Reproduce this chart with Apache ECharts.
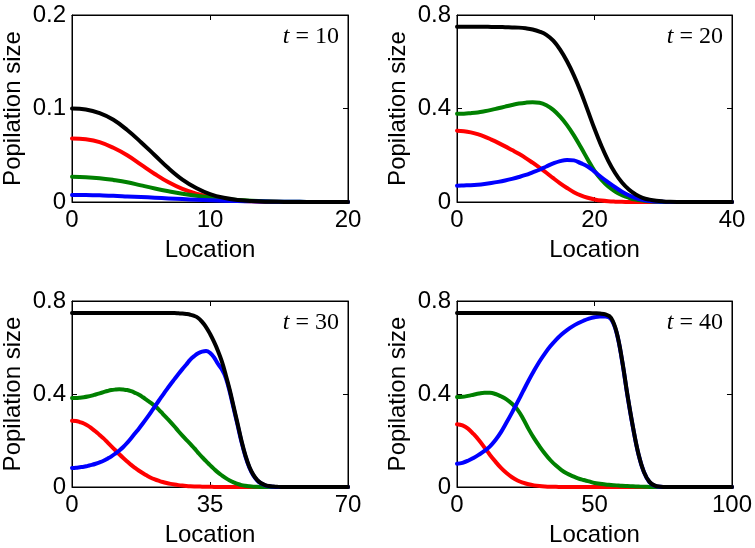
<!DOCTYPE html>
<html>
<head>
<meta charset="utf-8">
<script src="https://cdn.jsdelivr.net/npm/echarts@6/dist/echarts.min.js"></script>
<style>
html,body{margin:0;padding:0;background:#fff;}
#chart{width:755px;height:548px;}
</style>
</head>
<body>
<div id="chart"></div>
<script>
// ---------- data ----------
const PANEL_LABELS = ['10', '20', '30', '40'];
const X_MAX = [20, 40, 70, 100];
const X_INTERVAL = [10, 20, 35, 50];
const Y_MAX = [0.2, 0.8, 0.8, 0.8];
const Y_INTERVAL = [0.1, 0.4, 0.4, 0.4];

// t = 10 (location 0..20, step 1)
const X_T10 = [0,1,2,3,4,5,6,7,8,9,10,11,12,13,14,15,16,17,18,19,20];
const BLACK_T10 = [0.100,0.099,0.095,0.088,0.077,0.064,0.050,0.036,0.024,0.015,0.0085,0.0045,0.0022,0.001,0.0004,0.0002,0,0,0,0,0];
const RED_T10 = [0.068,0.067,0.064,0.058,0.050,0.040,0.030,0.021,0.014,0.009,0.0055,0.003,0.0015,0.0007,0.0003,0.0001,0,0,0,0,0];
const GREEN_T10 = [0.027,0.0266,0.0255,0.0236,0.0212,0.0178,0.0145,0.0115,0.0088,0.0066,0.0048,0.0033,0.0022,0.0014,0.0008,0.0004,0.0002,0.0001,0,0,0];
const BLUE_T10 = [0.0075,0.0074,0.0071,0.0067,0.0060,0.0053,0.0046,0.0038,0.0031,0.0024,0.0019,0.0014,0.0010,0.0007,0.0005,0.0003,0.0002,0.0001,0,0,0];

// t = 20 (location 0..40, step 1)
const X_T20 = [0,1,2,3,4,5,6,7,8,9,10,11,12,13,14,15,16,17,18,19,20,21,22,23,24,25,26,27,28,29,30,31,32,33,34,35,36,37,38,39,40];
const BLACK_T20 = [0.750,0.750,0.750,0.750,0.750,0.749,0.749,0.748,0.747,0.746,0.743,0.738,0.729,0.715,0.690,0.652,0.602,0.542,0.472,0.393,0.313,0.240,0.176,0.124,0.083,0.053,0.032,0.018,0.010,0.005,0.0025,0.0012,0.0005,0.0002,0,0,0,0,0,0,0];
const RED_T20 = [0.305,0.303,0.298,0.290,0.280,0.267,0.253,0.238,0.222,0.206,0.188,0.168,0.147,0.125,0.102,0.080,0.060,0.042,0.028,0.018,0.011,0.006,0.003,0.0015,0.0007,0.0003,0,0,0,0,0,0,0,0,0,0,0,0,0,0,0];
const GREEN_T20 = [0.378,0.378,0.380,0.383,0.388,0.394,0.401,0.408,0.415,0.421,0.425,0.427,0.425,0.414,0.394,0.365,0.329,0.285,0.235,0.183,0.133,0.095,0.066,0.045,0.029,0.018,0.010,0.006,0.003,0.001,0,0,0,0,0,0,0,0,0,0,0];
const BLUE_T20 = [0.070,0.071,0.072,0.074,0.077,0.081,0.086,0.092,0.099,0.107,0.116,0.127,0.138,0.152,0.165,0.175,0.180,0.178,0.166,0.152,0.130,0.106,0.084,0.063,0.044,0.029,0.017,0.009,0.004,0.002,0.001,0,0,0,0,0,0,0,0,0,0];

// t = 30 (location 0..70, step 1)
const X_T30 = [0,1,2,3,4,5,6,7,8,9,10,11,12,13,14,15,16,17,18,19,20,21,22,23,24,25,26,27,28,29,30,31,32,33,34,35,36,37,38,39,40,41,42,43,44,45,46,47,48,49,50,51,52,53,54,55,56,57,58,59,60,61,62,63,64,65,66,67,68,69,70];
const BLACK_T30 = [0.748,0.748,0.748,0.748,0.748,0.748,0.748,0.748,0.748,0.748,0.748,0.748,0.748,0.748,0.748,0.748,0.748,0.748,0.748,0.748,0.748,0.748,0.748,0.748,0.748,0.748,0.748,0.747,0.746,0.744,0.741,0.736,0.727,0.710,0.688,0.659,0.625,0.586,0.540,0.482,0.418,0.345,0.272,0.198,0.135,0.086,0.052,0.030,0.016,0.008,0.004,0.002,0.001,0,0,0,0,0,0,0,0,0,0,0,0,0,0,0,0,0,0];
const RED_T30 = [0.285,0.284,0.279,0.273,0.264,0.252,0.239,0.224,0.209,0.192,0.175,0.158,0.141,0.125,0.110,0.095,0.082,0.070,0.059,0.049,0.040,0.033,0.027,0.0216,0.0172,0.0135,0.0105,0.0081,0.0062,0.0047,0.0035,0.0026,0.0019,0.0014,0.001,0.0007,0.0005,0.0003,0.0002,0.0001,0,0,0,0,0,0,0,0,0,0,0,0,0,0,0,0,0,0,0,0,0,0,0,0,0,0,0,0,0,0,0];
const GREEN_T30 = [0.383,0.383,0.384,0.386,0.389,0.393,0.398,0.403,0.408,0.413,0.417,0.419,0.420,0.419,0.417,0.412,0.405,0.397,0.386,0.374,0.362,0.349,0.333,0.315,0.297,0.279,0.260,0.240,0.221,0.203,0.186,0.167,0.147,0.128,0.111,0.094,0.078,0.063,0.050,0.038,0.028,0.020,0.013,0.008,0.005,0.003,0.0015,0.0007,0.0003,0,0,0,0,0,0,0,0,0,0,0,0,0,0,0,0,0,0,0,0,0,0];
const BLUE_T30 = [0.082,0.083,0.085,0.087,0.091,0.095,0.100,0.106,0.113,0.122,0.132,0.144,0.157,0.172,0.190,0.210,0.231,0.252,0.274,0.297,0.321,0.346,0.371,0.395,0.419,0.442,0.464,0.486,0.507,0.527,0.548,0.563,0.575,0.582,0.585,0.577,0.558,0.530,0.506,0.470,0.410,0.338,0.266,0.193,0.131,0.083,0.050,0.028,0.015,0.007,0.003,0.001,0,0,0,0,0,0,0,0,0,0,0,0,0,0,0,0,0,0,0];

// t = 40 (location 0..100, step 2)
const X_T40 = [0,2,4,6,8,10,12,14,16,18,20,22,24,26,28,30,32,34,36,38,40,42,44,46,48,50,52,54,56,58,60,62,64,66,68,70,72,74,76,78,80,82,84,86,88,90,92,94,96,98,100];
const BLACK_T40 = [0.748,0.748,0.748,0.748,0.748,0.748,0.748,0.748,0.748,0.748,0.748,0.748,0.748,0.748,0.748,0.748,0.748,0.748,0.748,0.748,0.748,0.748,0.748,0.748,0.748,0.747,0.746,0.742,0.728,0.668,0.548,0.395,0.258,0.142,0.064,0.022,0.006,0.0015,0,0,0,0,0,0,0,0,0,0,0,0,0];
const RED_T40 = [0.270,0.265,0.251,0.228,0.201,0.170,0.138,0.109,0.082,0.060,0.042,0.028,0.0185,0.0116,0.0070,0.0041,0.0023,0.0012,0.0006,0.0003,0.0001,0,0,0,0,0,0,0,0,0,0,0,0,0,0,0,0,0,0,0,0,0,0,0,0,0,0,0,0,0,0];
const GREEN_T40 = [0.387,0.388,0.392,0.397,0.402,0.405,0.405,0.400,0.390,0.377,0.358,0.333,0.295,0.250,0.210,0.175,0.143,0.115,0.092,0.073,0.058,0.047,0.037,0.030,0.024,0.017,0.014,0.011,0.009,0.007,0.005,0.004,0.003,0.002,0.001,0.0005,0,0,0,0,0,0,0,0,0,0,0,0,0,0,0];
const BLUE_T40 = [0.100,0.104,0.113,0.125,0.139,0.155,0.175,0.202,0.236,0.277,0.320,0.365,0.411,0.457,0.500,0.540,0.575,0.606,0.633,0.656,0.675,0.691,0.704,0.715,0.724,0.730,0.733,0.733,0.722,0.665,0.545,0.392,0.255,0.140,0.063,0.021,0.005,0.001,0,0,0,0,0,0,0,0,0,0,0,0,0];

const PANELS = [
  {x: X_T10, red: RED_T10, green: GREEN_T10, blue: BLUE_T10, black: BLACK_T10},
  {x: X_T20, red: RED_T20, green: GREEN_T20, blue: BLUE_T20, black: BLACK_T20},
  {x: X_T30, red: RED_T30, green: GREEN_T30, blue: BLUE_T30, black: BLACK_T30},
  {x: X_T40, red: RED_T40, green: GREEN_T40, blue: BLUE_T40, black: BLACK_T40}
];

// ---------- layout ----------
const GRIDS = [
  {left: 72, top: 15, width: 276, height: 187},
  {left: 457, top: 15, width: 275, height: 187},
  {left: 72, top: 301, width: 276, height: 189},
  {left: 457, top: 301, width: 275, height: 189}
];
const COLORS = {red: '#ff0000', green: '#008000', blue: '#0000ff', black: '#000000'};
const FONT = 'Liberation Sans, Arial, sans-serif';
const SERIF = 'Liberation Serif, DejaVu Serif, serif';

const option = {
  animation: false,
  backgroundColor: '#ffffff',
  grid: [], xAxis: [], yAxis: [], series: [], title: []
};

GRIDS.forEach((g, i) => {
  option.grid.push({left: g.left, top: g.top, width: g.width, height: g.height,
    show: true, borderColor: '#000', borderWidth: 1, containLabel: false});
  const tick = {show: true, inside: true, length: 5, lineStyle: {color: '#000', width: 1}};
  option.xAxis.push({
    gridIndex: i, type: 'value', position: 'bottom', min: 0, max: X_MAX[i], interval: X_INTERVAL[i],
    axisLine: {show: true, onZero: false, lineStyle: {color: '#000', width: 1}},
    axisTick: tick, splitLine: {show: false},
    axisLabel: {color: '#000', fontSize: 24, fontFamily: FONT, margin: 6,
      showMinLabel: true, showMaxLabel: true, hideOverlap: false},
    name: 'Location', nameLocation: 'middle', nameGap: 36,
    nameTextStyle: {color: '#000', fontSize: 24, fontFamily: FONT}
  });
  option.xAxis.push({
    gridIndex: i, type: 'value', position: 'top', min: 0, max: X_MAX[i], interval: X_INTERVAL[i],
    axisLine: {show: true, onZero: false, lineStyle: {color: '#000', width: 1}},
    axisTick: tick, splitLine: {show: false}, axisLabel: {show: false}
  });
  option.yAxis.push({
    gridIndex: i, type: 'value', position: 'left', min: 0, max: Y_MAX[i], interval: Y_INTERVAL[i],
    axisLine: {show: true, onZero: false, lineStyle: {color: '#000', width: 1}},
    axisTick: tick, splitLine: {show: false},
    axisLabel: {color: '#000', fontSize: 24, fontFamily: FONT, margin: 6,
      showMinLabel: true, showMaxLabel: true, hideOverlap: false},
    name: 'Popilation size', nameLocation: 'middle', nameGap: 47,
    nameTextStyle: {color: '#000', fontSize: 24, fontFamily: FONT}
  });
  option.yAxis.push({
    gridIndex: i, type: 'value', position: 'right', min: 0, max: Y_MAX[i], interval: Y_INTERVAL[i],
    axisLine: {show: true, onZero: false, lineStyle: {color: '#000', width: 1}},
    axisTick: tick, splitLine: {show: false}, axisLabel: {show: false}
  });

  const p = PANELS[i];
  ['red', 'green', 'blue', 'black'].forEach((k, j) => {
    option.series.push({
      type: 'line', xAxisIndex: 2 * i, yAxisIndex: 2 * i,
      data: p.x.map((xv, n) => [xv, p[k][n]]),
      showSymbol: false, symbol: 'none', smooth: 0.4, clip: true,
      lineStyle: {color: COLORS[k], width: 4, cap: 'round', join: 'round'},
      itemStyle: {color: COLORS[k]}, z: 2 + j, silent: true
    });
  });

  option.title.push({
    text: '{i|t}{n| = ' + PANEL_LABELS[i] + '}',
    right: 755 - (g.left + g.width - 9), top: g.top + 10, padding: 0,
    textStyle: {
      fontWeight: 'normal', fontFamily: SERIF, fontSize: 24, color: '#000',
      rich: {
        i: {fontFamily: SERIF, fontStyle: 'italic', fontWeight: 'normal', fontSize: 24, color: '#000'},
        n: {fontFamily: SERIF, fontWeight: 'normal', fontSize: 24, color: '#000'}
      }
    }
  });
});

const chart = echarts.init(document.getElementById('chart'), null, {renderer: 'canvas'});
chart.setOption(option);
</script>
</body>
</html>
